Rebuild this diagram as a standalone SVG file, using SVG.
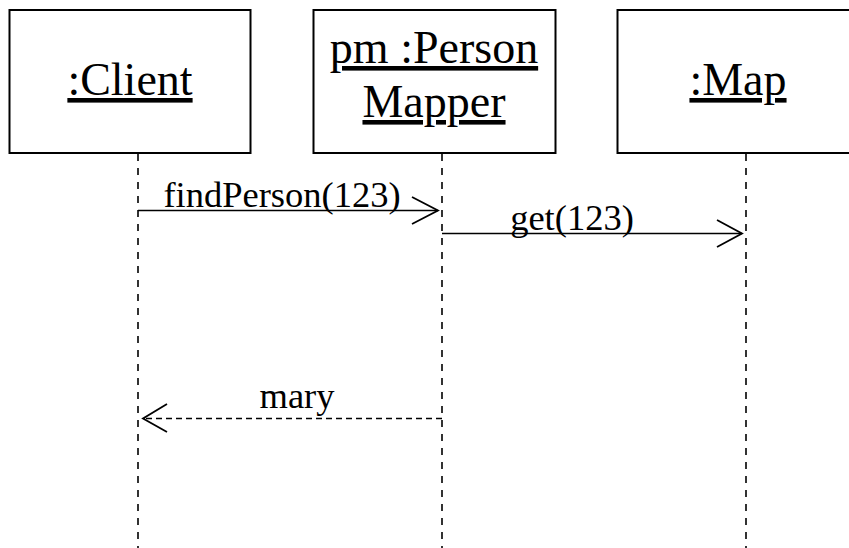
<svg xmlns="http://www.w3.org/2000/svg" width="849" height="548" viewBox="0 0 849 548">
<style>
.box{fill:#fff;stroke:#000;stroke-width:2}
.name{font-family:"Liberation Serif","Times New Roman",serif;font-size:46px;text-anchor:middle;text-decoration:underline;fill:#000}
.lbl{font-family:"Liberation Serif","Times New Roman",serif;font-size:36.5px;text-anchor:middle;fill:#000}
.life{stroke:#000;stroke-width:1.6;stroke-dasharray:7 7;fill:none}
.msg{stroke:#000;stroke-width:1.6;fill:none}
.ret{stroke:#000;stroke-width:1.6;stroke-dasharray:6 4;fill:none}
.head{stroke:#000;stroke-width:1.8;fill:none}
</style>
<rect width="849" height="548" fill="#fff"/>
<g id="client">
<rect class="box" x="9.5" y="10" width="241" height="143"/>
<text class="name" x="130" y="95">:Client</text>
</g>
<g id="personMapper">
<rect class="box" x="313.5" y="10" width="242" height="143"/>
<text class="name" x="434" y="63">pm :Person</text>
<text class="name" x="434" y="117">Mapper</text>
</g>
<g id="map">
<rect class="box" x="617.5" y="10" width="250" height="143"/>
<text class="name" x="738" y="95">:Map</text>
</g>
<g id="connectors">
<line class="life" x1="138" y1="154" x2="138" y2="548"/>
<line class="life" x1="442" y1="154" x2="442" y2="548"/>
<line class="life" x1="746" y1="154" x2="746" y2="548"/>
<line class="msg" x1="138" y1="210.5" x2="438" y2="210.5"/>
<polyline class="head" points="412,197 438,210.5 412,224"/>
<text class="lbl" x="282" y="207">findPerson(123)</text>
<line class="msg" x1="442" y1="233.5" x2="742" y2="233.5"/>
<polyline class="head" points="717,220 742,233.5 717,247"/>
<text class="lbl" x="572" y="230">get(123)</text>
<line class="ret" x1="442" y1="418.5" x2="143" y2="418.5"/>
<polyline class="head" points="167,404 143,418.5 167,432"/>
<text class="lbl" x="297" y="408">mary</text>
</g>
</svg>
